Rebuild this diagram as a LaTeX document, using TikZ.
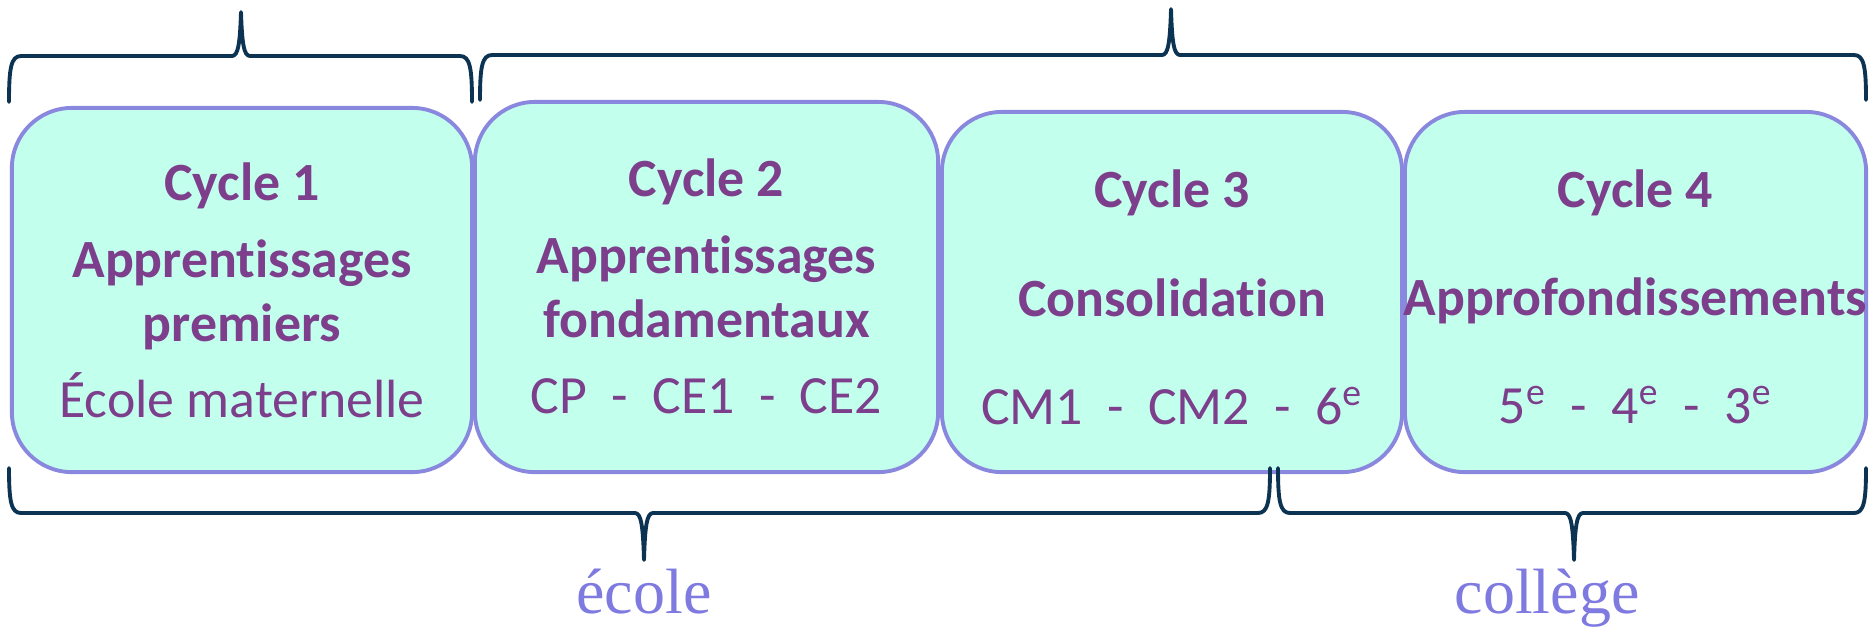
\documentclass[tikz,border=0pt]{standalone}
\usepackage{fontspec}
\setmainfont{Carlito}[Ligatures=NoCommon]
\newfontfamily\schoolfont{Liberation Serif}
\definecolor{cyclefill}{RGB}{194,255,236}
\definecolor{cycleline}{RGB}{138,135,222}
\definecolor{cycletext}{RGB}{125,62,140}
\definecolor{bracecol}{RGB}{12,52,82}
\definecolor{schoolcol}{RGB}{126,122,224}
\tikzset{
    cyclebox/.style={draw=cycleline,fill=cyclefill,line width=1.1pt,rounded corners=0.6cm,inner sep=0pt},
    cycletitle/.style={text=cycletext,anchor=base,inner sep=0pt,font=\fontsize{15.3}{18}\selectfont\bfseries},
    cyclegrade/.style={text=cycletext,anchor=base,inner sep=0pt,font=\fontsize{15.3}{18}\selectfont},
    bracepath/.style={draw=bracecol,line width=1.1pt,line cap=round,line join=round},
    schoollabel/.style={text=schoolcol,anchor=base,inner sep=0pt,font=\schoolfont\fontsize{18.2}{20}\selectfont},
}

\begin{document}
\begin{tikzpicture}[x=0.01cm,y=-0.01cm]
    \useasboundingbox (0,0) rectangle (1870,626);
    % the four cycles
    \node[cyclebox,minimum width=4.60cm,minimum height=3.64cm] (c1) at (242,290) {};
    \node[cyclebox,minimum width=4.63cm,minimum height=3.70cm] (c2) at (706.5,287) {};
    \node[cyclebox,minimum width=4.60cm,minimum height=3.60cm] (c3) at (1172,292) {};
    \node[cyclebox,minimum width=4.61cm,minimum height=3.60cm] (c4) at (1635.5,292) {};

    \node[cycletitle] (t1) at (242,200) {Cycle 1};
    \node[cycletitle] (s1a) at (242,277) {Apprentissages};
    \node[cycletitle] (s1b) at (242,341) {premiers};
    \node[cyclegrade] (g1) at (242,417) {École maternelle};

    \node[cycletitle] (t2) at (706.5,196) {Cycle 2};
    \node[cycletitle] (s2a) at (706.5,273) {Apprentissages};
    \node[cycletitle] (s2b) at (706.5,337) {fondamentaux};
    \node[cyclegrade] (g2) at (706.5,413) {CP~~-~~CE1~~-~~CE2};

    \node[cycletitle] (t3) at (1172,207) {Cycle 3};
    \node[cycletitle] (s3) at (1172,316) {Consolidation};
    \node[cyclegrade] (g3) at (1172,424) {CM1~~-~~CM2~~-~~6\textsuperscript{e}};

    \node[cycletitle] (t4) at (1635.5,207) {Cycle 4};
    \node[cycletitle] (s4) at (1635.5,315) {Approfondissements};
    \node[cyclegrade] (g4) at (1635.5,423) {5\textsuperscript{e}~~-~~4\textsuperscript{e}~~-~~3\textsuperscript{e}};

    % braces
    \draw[bracepath] (9,102) .. controls (9,68) and (11,56) .. (21,56) -- (232,56)
        .. controls (238,56) and (240,44) .. (241,12) .. controls (242,44) and (244,56) .. (250,56)
        -- (460,56) .. controls (470,56) and (472,68) .. (472,102);
    \draw[bracepath] (480,100) .. controls (480,67) and (482,55) .. (492,55) -- (1162,55)
        .. controls (1168,55) and (1170,43) .. (1171,9) .. controls (1172,43) and (1174,55) .. (1180,55)
        -- (1854,55) .. controls (1864,55) and (1866,67) .. (1866,100);
    \draw[bracepath] (9,468) .. controls (9,501) and (11,513) .. (21,513) -- (635,513)
        .. controls (641,513) and (643,525) .. (644,560) .. controls (645,525) and (647,513) .. (653,513)
        -- (1258,513) .. controls (1268,513) and (1270,501) .. (1270,468);
    \draw[bracepath] (1278,468) .. controls (1278,501) and (1280,513) .. (1290,513) -- (1565,513)
        .. controls (1571,513) and (1573,525) .. (1574,560) .. controls (1575,525) and (1577,513) .. (1583,513)
        -- (1854,513) .. controls (1864,513) and (1866,501) .. (1866,468);

    \node[schoollabel] (ecole) at (644,613) {école};
    \node[schoollabel] (college) at (1547,613) {collège};
\end{tikzpicture}
\end{document}
